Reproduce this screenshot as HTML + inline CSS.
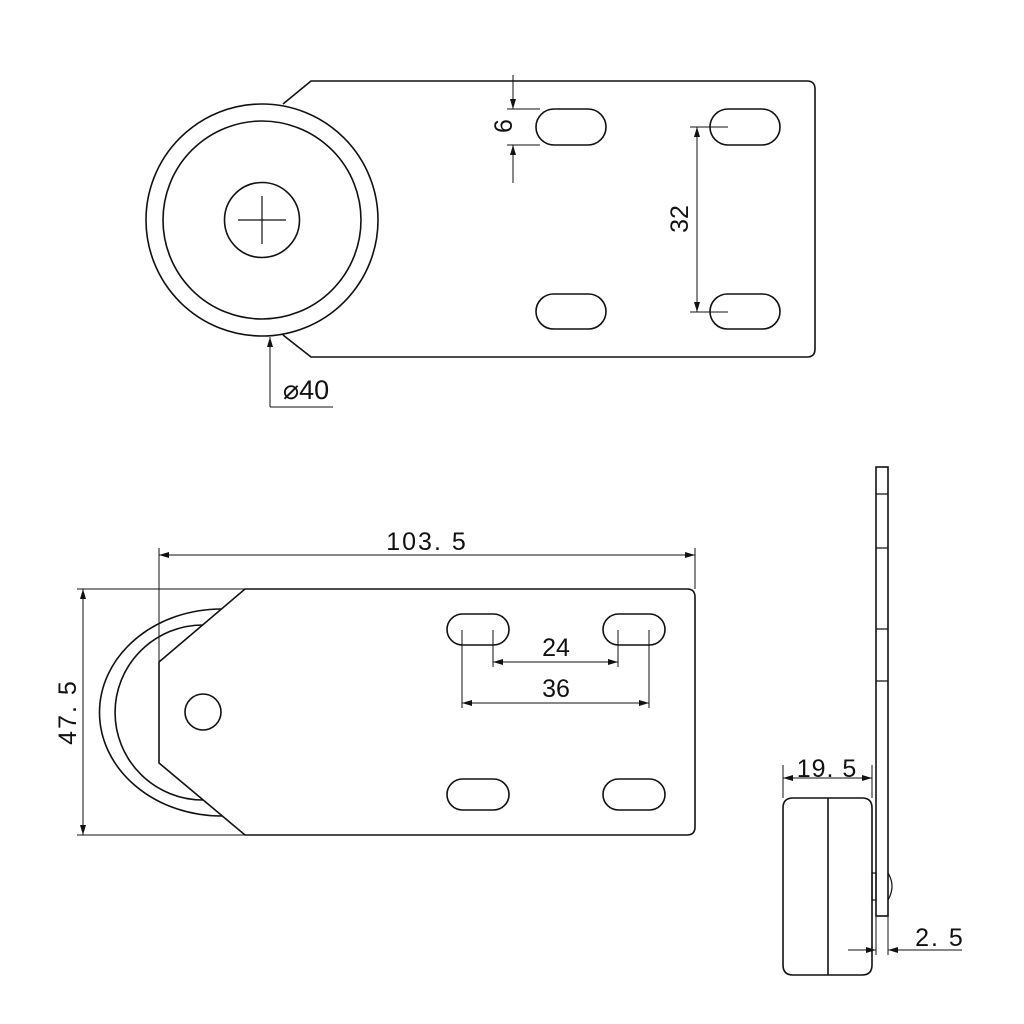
<!DOCTYPE html>
<html><head><style>
html,body{margin:0;padding:0;background:#fff}
svg{display:block}
text{font-family:"Liberation Sans","DejaVu Sans",sans-serif;fill:#111}
</style></head><body>
<svg width="1024" height="1024" viewBox="0 0 1024 1024" xmlns="http://www.w3.org/2000/svg">
<defs>
<marker id="a" viewBox="0 0 10 6" refX="10" refY="3" markerWidth="18" markerHeight="6" markerUnits="userSpaceOnUse" orient="auto-start-reverse"><path d="M0,0 L10,3 L0,6 Z" fill="#111"/></marker>
</defs>
<g fill="none" stroke="#111" stroke-width="1.6">
<!-- TOP VIEW -->
<path d="M283,104 L311,81 L807,81 Q815,81 815,89 L815,349 Q815,357 807,357 L311,357 L283,335"/>
<circle cx="262" cy="220" r="116"/>
<circle cx="262" cy="220" r="99"/>
<circle cx="262" cy="220" r="37.5"/>
<path d="M262,196 V244 M238,220 H286" stroke-width="1.2"/>
<rect x="536" y="109" width="70" height="36" rx="18"/>
<rect x="710" y="109" width="70" height="36" rx="18"/>
<rect x="536" y="294" width="70" height="35" rx="17.5"/>
<rect x="710" y="294" width="70" height="35" rx="17.5"/>
<g stroke-width="1">
<path d="M507,109 H540 M507,145 H540"/>
<line x1="513" y1="75" x2="513" y2="109" marker-end="url(#a)"/>
<line x1="513" y1="183" x2="513" y2="145" marker-end="url(#a)"/>
<path d="M690,127 H728 M690,312 H728"/>
<line x1="697" y1="127" x2="697" y2="312" marker-start="url(#a)" marker-end="url(#a)"/>
<line x1="270" y1="407" x2="270" y2="337" marker-end="url(#a)"/>
<path d="M270,407 H333"/>
</g>
<!-- BOTTOM VIEW -->
<path d="M159,662 L245,589 L687,589 Q695,589 695,597 L695,827 Q695,835 687,835 L245,835 L159,763 Z"/>
<path d="M221,609 A122,103.5 0 0 0 222,816"/>
<path d="M203,625 A88,87.5 0 0 0 203,800"/>
<circle cx="203" cy="712" r="18"/>
<rect x="447" y="614" width="62" height="31" rx="15.5"/>
<rect x="603" y="614" width="62" height="31" rx="15.5"/>
<rect x="447" y="779" width="62" height="31" rx="15.5"/>
<rect x="603" y="779" width="62" height="31" rx="15.5"/>
<g stroke-width="1">
<path d="M462,630 V708 M493,630 V667 M618,630 V667 M649,630 V708"/>
<line x1="493" y1="662" x2="618" y2="662" marker-start="url(#a)" marker-end="url(#a)"/>
<line x1="462" y1="703" x2="649" y2="703" marker-start="url(#a)" marker-end="url(#a)"/>
<path d="M159,548 V662 M695,548 V589"/>
<line x1="159" y1="555" x2="695" y2="555" marker-start="url(#a)" marker-end="url(#a)"/>
<path d="M77,589 H245 M77,835 H245"/>
<line x1="83" y1="589" x2="83" y2="835" marker-start="url(#a)" marker-end="url(#a)"/>
</g>
<!-- SIDE VIEW -->
<rect x="876" y="467" width="12" height="449"/>
<path d="M876,494 H888 M876,548 H888 M876,629 H888 M876,681 H888" stroke-width="1.2"/>
<path d="M793,798 L862,798 Q872,798 872,808 L872,965 Q872,975 862,975 L793,975 Q783,975 783,965 L783,808 Q783,798 793,798 Z"/>
<line x1="828" y1="798" x2="828" y2="975"/>
<rect x="872" y="873" width="4" height="27" stroke-width="1.2"/>
<path d="M888,873 Q896,886 888,900" stroke-width="1.2"/>
<g stroke-width="1">
<path d="M783,765 V798 M872,765 V798"/>
<line x1="783" y1="778" x2="872" y2="778" marker-start="url(#a)" marker-end="url(#a)"/>
<path d="M876,916 V955 M888,916 V955"/>
<line x1="848" y1="950" x2="876" y2="950" marker-end="url(#a)"/>
<line x1="962" y1="950" x2="888" y2="950" marker-end="url(#a)"/>
</g>
</g>
<g font-size="25">
<text x="504" y="126" transform="rotate(-90 504 126)" text-anchor="middle" dominant-baseline="central">6</text>
<text x="680" y="219" transform="rotate(-90 680 219)" text-anchor="middle" dominant-baseline="central">32</text>
<text x="306" y="399" text-anchor="middle" font-size="27">⌀40</text>
<text x="427" y="550" text-anchor="middle" letter-spacing="2">103. 5</text>
<text x="556" y="656" text-anchor="middle">24</text>
<text x="556" y="697" text-anchor="middle">36</text>
<text x="68" y="712" transform="rotate(-90 68 712)" text-anchor="middle" dominant-baseline="central" letter-spacing="2">47. 5</text>
<text x="827" y="777" text-anchor="middle" letter-spacing="1">19. 5</text>
<text x="940" y="946" text-anchor="middle" letter-spacing="2">2. 5</text>
</g>
</svg>
</body></html>
